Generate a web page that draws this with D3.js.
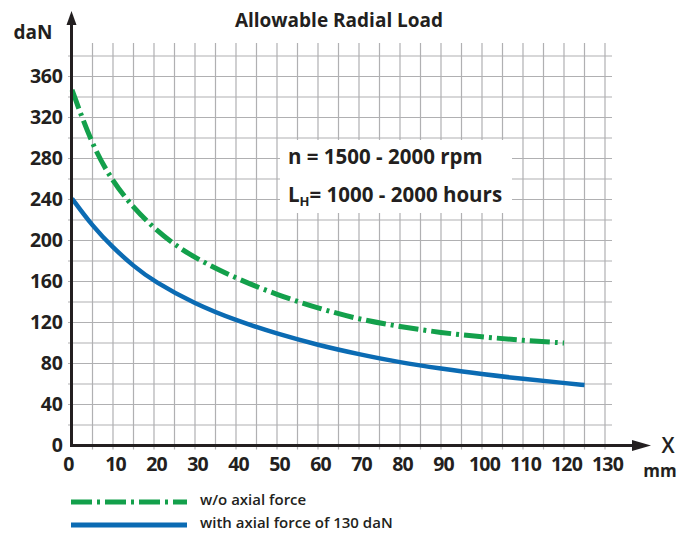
<!DOCTYPE html>
<html lang="en">
<head>
<meta charset="UTF-8">
<title>Allowable Radial Load</title>
<script src="https://cdn.jsdelivr.net/npm/d3@7/dist/d3.min.js"></script>
<style>
  body { margin: 0; background: #fff; }
  text { font-family: "Open Sans", "Noto Sans", sans-serif; fill: #231f20; }
</style>
</head>
<body>
<div id="chart"></div>
<script>
// tick labels
const xTicks = [0, 10, 20, 30, 40, 50, 60, 70, 80, 90, 100, 110, 120, 130];
const yTicks = [0, 40, 80, 120, 160, 200, 240, 280, 320, 360];

// [mm, daN]
const withoutAxial = [
  [0, 347], [5, 292], [10, 257], [15, 232], [20, 212], [25, 196], [30, 183],
  [40, 163], [50, 147], [60, 134], [70, 123], [80, 116], [90, 110],
  [100, 106], [110, 102.5], [120, 100]
];
const withAxial = [
  [0, 241], [5, 214], [10, 193], [15, 175], [20, 160], [30, 138], [40, 122],
  [50, 109], [60, 98], [70, 89], [80, 81], [90, 75], [100, 69.5],
  [110, 65], [120, 61], [125, 59]
];

const width = 690, height = 533;
const green = "#13a04b", blue = "#0b6bb3", ink = "#231f20";

const svg = d3.select("#chart").append("svg")
    .attr("width", width)
    .attr("height", height);

const x = d3.scaleLinear().domain([0, 130]).range([72, 605]);
const y = d3.scaleLinear().domain([0, 380]).range([445.5, 56]);

// grid
const grid = svg.append("g").attr("stroke", "#b0b0b2").attr("stroke-width", 1.2);
grid.selectAll("line.v")
    .data(d3.range(5, 131, 5))
    .enter().append("line")
    .attr("x1", d => x(d)).attr("x2", d => x(d))
    .attr("y1", 43).attr("y2", y(0) + 4);
grid.selectAll("line.h")
    .data(d3.range(20, 381, 20))
    .enter().append("line")
    .attr("x1", x(0) - 4).attr("x2", 612)
    .attr("y1", d => y(d)).attr("y2", d => y(d));

// white box behind the note
svg.append("rect")
    .attr("x", 280).attr("y", 140)
    .attr("width", 232).attr("height", 73)
    .attr("fill", "#fff");

// curves
const line = d3.line()
    .x(d => x(d[0]))
    .y(d => y(d[1]))
    .curve(d3.curveBasis);

svg.append("path")
    .datum(withAxial)
    .attr("d", line)
    .attr("fill", "none")
    .attr("stroke", blue)
    .attr("stroke-width", 4.5);

svg.append("path")
    .datum(withoutAxial)
    .attr("d", line)
    .attr("fill", "none")
    .attr("stroke", green)
    .attr("stroke-width", 5)
    .attr("stroke-dasharray", "20,5,3,5");

// axes lines with arrows
svg.append("line")
    .attr("x1", x(0) - 0.5).attr("x2", x(0) - 0.5)
    .attr("y1", y(0) + 1.5).attr("y2", 22)
    .attr("stroke", ink).attr("stroke-width", 3);
svg.append("path")
    .attr("d", `M${x(0) - 0.5},11 L${x(0) - 5.5},25 L${x(0) + 4.5},25 Z`)
    .attr("fill", ink);

svg.append("line")
    .attr("x1", x(0) - 2).attr("x2", 636)
    .attr("y1", y(0)).attr("y2", y(0))
    .attr("stroke", ink).attr("stroke-width", 3);
svg.append("path")
    .attr("d", `M651,${y(0)} L632,${y(0) - 5.5} L632,${y(0) + 5.5} Z`)
    .attr("fill", ink);

// tick labels
const yAxis = svg.append("g")
    .attr("transform", `translate(${x(0) - 0.5},0)`)
    .call(d3.axisLeft(y).tickValues(yTicks).tickSize(0).tickPadding(9));
yAxis.select(".domain").remove();
yAxis.selectAll("text")
    .style("font-family", "'Open Sans', sans-serif")
    .style("font-size", "19.5px")
    .style("font-weight", "700")
    .style("letter-spacing", "-0.3px")
    .attr("fill", ink);

const xAxis = svg.append("g")
    .attr("transform", `translate(0,${y(0)})`)
    .call(d3.axisBottom(x).tickValues(xTicks).tickSize(0).tickPadding(12));
xAxis.select(".domain").remove();
xAxis.selectAll("text")
    .attr("dx", d => d === 0 ? -4 : 2)
    .style("font-family", "'Open Sans', sans-serif")
    .style("font-size", "19.5px")
    .style("font-weight", "700")
    .style("letter-spacing", "-0.8px")
    .attr("fill", ink);

// axis titles
svg.append("text")
    .attr("x", 33).attr("y", 39)
    .attr("text-anchor", "middle")
    .style("font-size", "19px").style("font-weight", "700")
    .text("daN");
svg.append("text")
    .attr("x", 668).attr("y", 453)
    .attr("text-anchor", "middle")
    .style("font-size", "21px").style("font-weight", "600")
    .text("X");
svg.append("text")
    .attr("x", 660).attr("y", 477)
    .attr("text-anchor", "middle")
    .style("font-size", "17px").style("font-weight", "700")
    .text("mm");

// title
svg.append("text")
    .attr("x", 339).attr("y", 27)
    .attr("text-anchor", "middle")
    .style("font-size", "19px").style("font-weight", "700")
    .text("Allowable Radial Load");

// note
svg.append("text")
    .attr("x", 288).attr("y", 164)
    .style("font-size", "20.5px").style("font-weight", "700")
    .text("n = 1500 - 2000 rpm");
const lh = svg.append("text")
    .attr("x", 288).attr("y", 202)
    .style("font-size", "20.5px").style("font-weight", "700");
lh.append("tspan").text("L");
lh.append("tspan").attr("dy", 4).style("font-size", "13px").text("H");
lh.append("tspan").attr("dy", -4).text("= 1000 - 2000 hours");

// legend
const legend = [
  { label: "w/o axial force", color: green, dash: "21,5,3,5", y: 502 },
  { label: "with axial force of 130 daN", color: blue, dash: null, y: 525 }
];
const lg = svg.append("g").selectAll("g")
    .data(legend)
    .enter().append("g");
lg.append("line")
    .attr("x1", 71).attr("x2", 187)
    .attr("y1", d => d.y).attr("y2", d => d.y)
    .attr("stroke", d => d.color)
    .attr("stroke-width", 5)
    .attr("stroke-dasharray", d => d.dash);
lg.append("text")
    .attr("x", 200).attr("y", d => d.y + 3)
    .style("font-size", "15px").style("font-weight", "600")
    .text(d => d.label);
</script>
</body>
</html>
